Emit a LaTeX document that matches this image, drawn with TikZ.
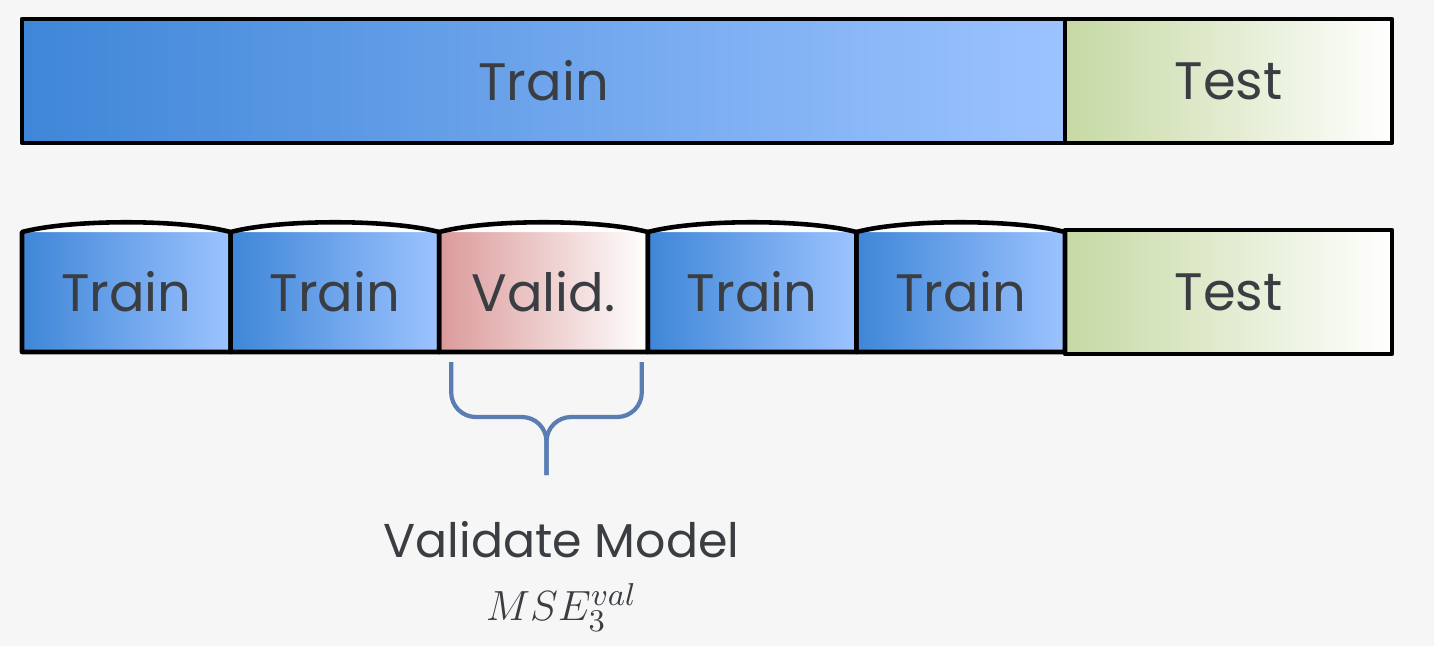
\documentclass[tikz,border=0pt]{standalone}
\usepackage{fontspec}
\setmainfont{Poppins}
\usetikzlibrary{positioning,calc}
\definecolor{bg}{HTML}{F6F6F6}
\definecolor{trainL}{HTML}{3F86D8}
\definecolor{trainR}{HTML}{9CC3FF}
\definecolor{testL}{HTML}{C6D9A3}
\definecolor{validL}{HTML}{DC9A9A}
\definecolor{ink}{HTML}{3A3E43}
\definecolor{bracecol}{HTML}{5A7DB4}
\tikzset{
  part/.style={rectangle,inner sep=0pt,outer sep=0pt,minimum height=1.2cm,
    text=ink,font=\fontsize{15}{18}\selectfont},
  trainpart/.style={part,left color=trainL,right color=trainR},
  testpart/.style={part,left color=testL,right color=white},
  validpart/.style={part,left color=validL,right color=white},
  outline/.style={draw=black,line width=1.3pt,line join=round},
  bracket/.style={draw=bracecol,line width=1.2pt,rounded corners=7pt},
}
\begin{document}
\begin{tikzpicture}
    \fill[bg] (0,0) rectangle (14.34,-6.46);
    \useasboundingbox (0,0) rectangle (14.34,-6.46);
    % one split
    \node[trainpart,outline,minimum width=10.43cm,minimum height=1.24cm,anchor=north west]
        (train) at (0.22,-0.19) {Train};
    \node[testpart,outline,minimum width=3.27cm,minimum height=1.24cm,right=0pt of train]
        (test) {Test};
    % folds
    \node[trainpart,minimum width=2.086cm,anchor=north west] (fold1) at (0.22,-2.32) {Train};
    \node[trainpart,minimum width=2.086cm,right=0pt of fold1] (fold2) {Train};
    \node[validpart,minimum width=2.086cm,right=0pt of fold2] (fold3) {Valid.};
    \node[trainpart,minimum width=2.086cm,right=0pt of fold3] (fold4) {Train};
    \node[trainpart,minimum width=2.086cm,right=0pt of fold4] (fold5) {Train};
    \node[testpart,outline,minimum width=3.27cm,minimum height=1.24cm,right=0pt of fold5]
        (testfold) {Test};
    \foreach \f in {fold1,fold2,fold3,fold4,fold5} {
        \fill[white] (\f.north west) .. controls ($(\f.north west)+(0.5,0.13)$)
            and ($(\f.north east)+(-0.5,0.13)$) .. (\f.north east) -- cycle;
        \draw[outline] (\f.south west) -- (\f.north west)
            .. controls ($(\f.north west)+(0.5,0.13)$) and ($(\f.north east)+(-0.5,0.13)$)
            .. (\f.north east) -- (\f.south east) -- cycle;
    }
    % brace under the validation fold
    \coordinate (bl) at ($(fold3.south west)+(0.12,-0.1)$);
    \coordinate (br) at ($(fold3.south east)+(-0.06,-0.1)$);
    \coordinate (tip) at ($(fold3.south)+(0.03,-1.23)$);
    \coordinate (mid) at ($(bl)+(0,-0.55)$);
    \draw[bracket] (bl) -- (bl|-mid) -- (tip|-mid) -- (tip);
    \draw[bracket] (br) -- (br|-mid) -- (tip|-mid) -- (tip);
    \node[text=ink,font=\fontsize{13.5}{16}\selectfont] (valmodel)
        at ($(tip)+(0.15,-0.65)$) {Validate Model};
    \node[text=ink,font=\fontsize{13}{16}\selectfont,below=0pt of valmodel] (mse)
        {$MSE_3^{val}$};
\end{tikzpicture}
\end{document}
